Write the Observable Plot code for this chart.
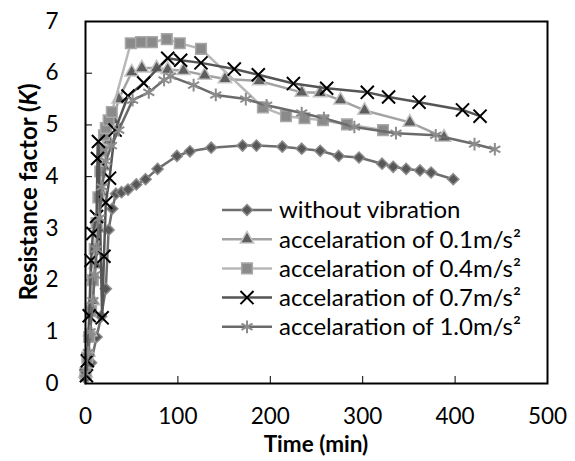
<!DOCTYPE html>
<html><head><meta charset="utf-8">
<script src="https://cdn.jsdelivr.net/npm/d3@7"></script>
<script src="https://cdn.jsdelivr.net/npm/@observablehq/plot@0.6"></script>
<style>body{margin:0;background:#fff;} svg{font-family:Lato,sans-serif;}</style>
</head><body><div id="chart"></div>
<script>
// ---- data ----
const seriesNames = ["without vibration","accelaration of 0.1m/s²","accelaration of 0.4m/s²","accelaration of 0.7m/s²","accelaration of 1.0m/s²"];

const noVibT = [0,6,12,17,22,25,29,33,39,46,55,65,78,99,113,136,170,185,213,234,254,274,296,321,333,347,362,374,398];
const noVibK = [0.1,0.4,0.9,1.3,1.83,2.97,3.38,3.67,3.70,3.75,3.85,3.95,4.15,4.40,4.49,4.56,4.60,4.60,4.58,4.54,4.50,4.40,4.37,4.25,4.19,4.15,4.12,4.08,3.95];

const acc01T = [0,3,5,8,11,14,17,20,25,30,36,50,61,77,89,106,129,151,188,234,254,276,302,351,388];
const acc01K = [0.2,0.6,1.0,1.6,2.3,3.0,3.7,4.2,4.7,5.1,5.5,6.02,6.10,6.10,6.07,6.05,5.96,5.89,5.85,5.63,5.62,5.48,5.28,5.05,4.76];

const acc04T = [0,2,4,6,8,10,12,14,16,18,20,22,25,28.5,49,60,72,88,102,125,192,217,237,257,283,322];
const acc04K = [0.2,0.5,0.9,1.4,2.0,2.6,3.1,3.6,4.1,4.5,4.8,4.94,5.09,5.25,6.58,6.60,6.60,6.66,6.58,6.47,5.34,5.17,5.13,5.09,5.01,4.90];

const acc07T = [1,2,4,6,8,12,13,14,18,20,22,26,32,46,63,89,103,125,161,187,225,261,305,328,361,408,427];
const acc07K = [0.15,0.44,1.31,2.38,2.90,3.23,4.35,4.68,1.27,2.46,3.50,3.97,4.90,5.56,5.81,6.29,6.25,6.20,6.08,5.97,5.80,5.71,5.63,5.54,5.44,5.29,5.17];

const acc10T = [0,3,5,8,10,12,15,18,22,28,36,51,68.5,85,92,117,141,173.5,196,234,258,291,336,379,421,443];
const acc10K = [0.2,0.6,1.0,1.6,2.1,2.6,3.2,3.8,4.3,4.6,4.9,5.48,5.63,5.87,5.94,5.77,5.58,5.50,5.38,5.23,5.13,4.96,4.84,4.80,4.63,4.53];

const xTicks = [0,100,200,300,400,500];
const yTicks = [0,1,2,3,4,5,6,7];

// ---- styles ----
const styles = [
  {line:"#6e6e6e", symbol:"diamond2", fill:"#575757", stroke:"#8c8c8c", sw:1.5, r:5},
  {line:"#a3a3a3", symbol:"triangle", fill:"#5e5e5e", stroke:"#c4c4c4", sw:1.5, r:5},
  {line:"#b8b8b8", symbol:"square",   fill:"#8a8a8a", stroke:"#a8a8a8", sw:1.5, r:6},
  {line:"#555555", symbol:"times",    fill:"none",    stroke:"#000000", sw:2,   r:6},
  {line:"#6b6b6b", symbol:"asterisk", fill:"none",    stroke:"#8c8c8c", sw:2,   r:6}
];
const raw = [[noVibT,noVibK],[acc01T,acc01K],[acc04T,acc04K],[acc07T,acc07K],[acc10T,acc10K]];
const series = raw.map(([t,k],i)=>t.map((tt,j)=>({t:tt,k:k[j],s:seriesNames[i]})));

const W=575,H=461,mL=85,mR=28,mT=21,mB=78;
const innerW=W-mL-mR, innerH=H-mT-mB;

const marks = [];
series.forEach((d,i)=>{
  const st=styles[i];
  marks.push(Plot.line(d,{x:"t",y:"k",stroke:st.line,strokeWidth:2.5}));
  marks.push(Plot.dot(d,{x:"t",y:"k",symbol:()=>st.symbol,r:st.r,fill:st.fill,stroke:st.stroke,strokeWidth:st.sw}));
});

const plot = Plot.plot({
  width:W,height:H,marginLeft:mL,marginRight:mR,marginTop:mT,marginBottom:mB,
  style:{fontFamily:"Lato, sans-serif",fontSize:"22px",background:"#fff",color:"#000"},
  x:{domain:[0,500]},
  y:{domain:[0,7]},
  symbol:{type:"identity"},
  marks:[
    Plot.axisX(xTicks,{tickSize:0,tickPadding:25,tickFormat:"d",label:null,fontSize:22.5,fill:"#000"}),
    Plot.axisY(yTicks,{tickSize:0,tickPadding:27,tickFormat:"d",label:null,fontSize:22.5,fill:"#000"}),
    Plot.tickX(xTicks.slice(1,-1),{x:d=>d,insetTop:innerH-7,stroke:"#000",strokeWidth:1}),
    Plot.tickY(yTicks.slice(1,-1),{y:d=>d,insetRight:innerW-7,stroke:"#000",strokeWidth:1}),
    ...marks,
    Plot.frame({stroke:"#000",strokeWidth:2})
  ]
});
document.getElementById("chart").appendChild(plot);

const svg = d3.select(plot);
// axis titles
svg.append("text").attr("x",(mL+W-mR)/2).attr("y",452).attr("text-anchor","middle")
  .attr("font-size",22.5).attr("font-weight","bold").attr("fill","#000").text("Time (min)");
const yt = svg.append("text").attr("transform",`translate(37,${(mT+H-mB)/2-10}) rotate(-90)`)
  .attr("text-anchor","middle").attr("font-size",24).attr("font-weight","bold").attr("fill","#000");
yt.append("tspan").text("Resistance factor (");
yt.append("tspan").attr("font-style","italic").text("K");
yt.append("tspan").text(")");

// legend
const symMap = {diamond2:d3.symbolDiamond2,triangle:d3.symbolTriangle,square:d3.symbolSquare,times:d3.symbolTimes,asterisk:d3.symbolAsterisk};
const lg = svg.append("g").attr("text-anchor","start");
seriesNames.forEach((name,i)=>{
  const st=styles[i]; const y=210+29.2*i;
  lg.append("line").attr("x1",222).attr("x2",272).attr("y1",y).attr("y2",y).attr("stroke",st.line).attr("stroke-width",2.5);
  lg.append("path").attr("transform",`translate(247,${y})`)
    .attr("d",d3.symbol(symMap[st.symbol],Math.PI*st.r*st.r)())
    .attr("fill",st.fill).attr("stroke",st.stroke).attr("stroke-width",st.sw);
  lg.append("text").attr("x",279).attr("y",y).attr("dy","0.35em").attr("text-anchor","start")
    .attr("font-size",24).attr("fill","#000").text(name);
});
</script></body></html>
